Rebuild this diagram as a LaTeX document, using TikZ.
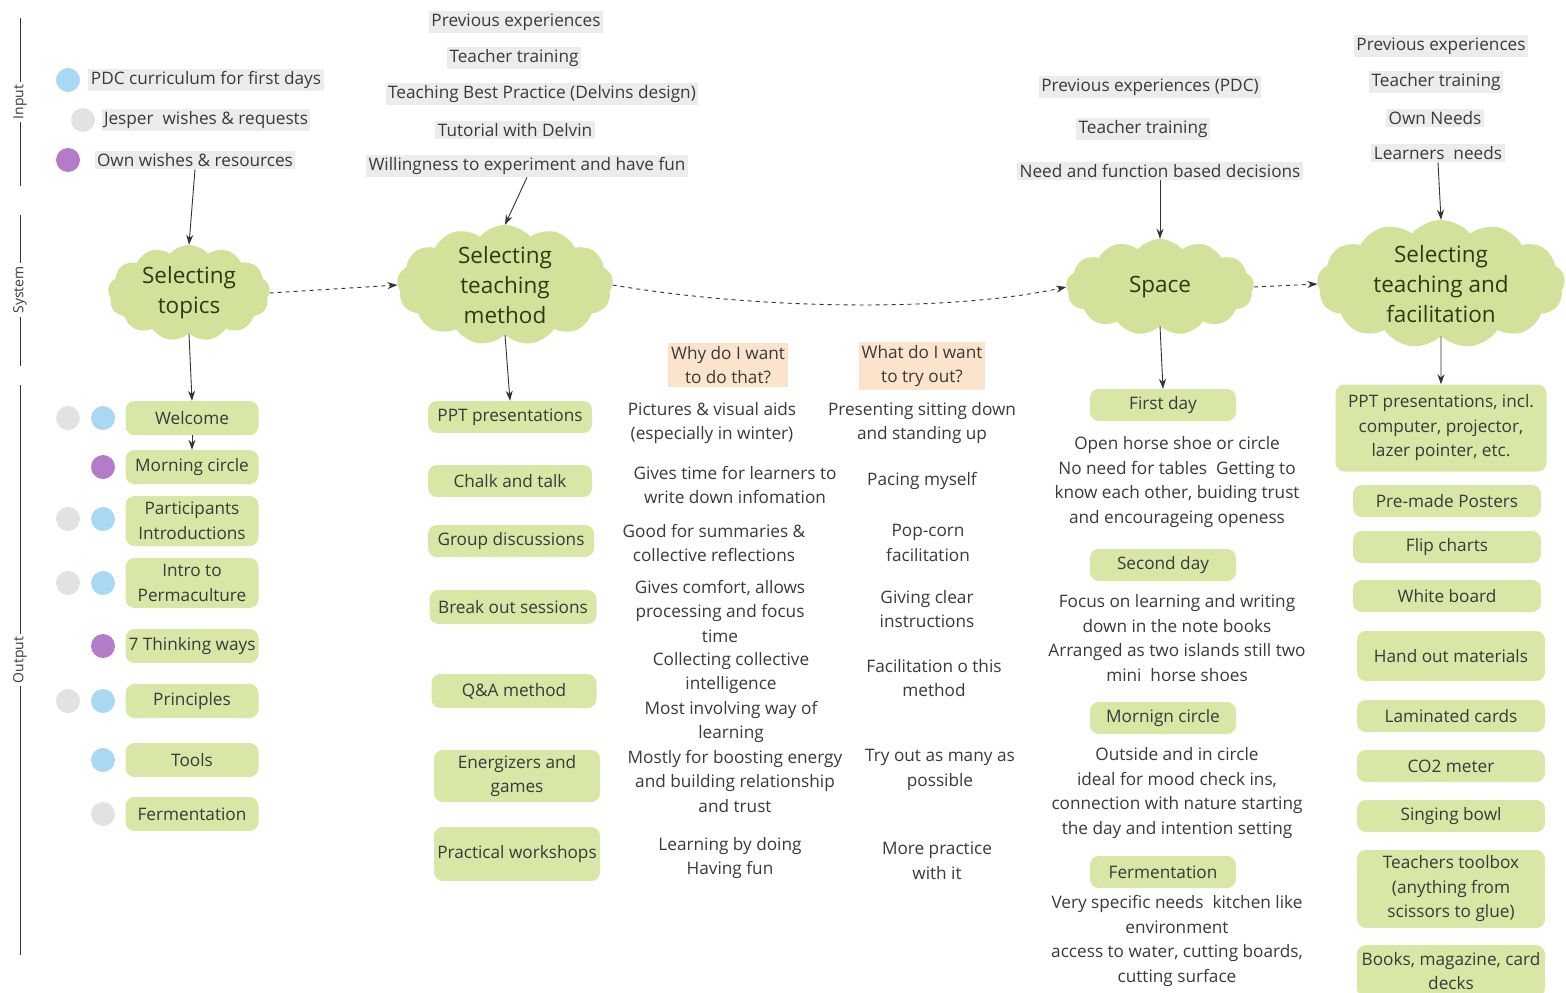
\documentclass[tikz,border=0pt]{standalone}
\usepackage{fontspec}
\setmainfont{Open Sans}
\usetikzlibrary{shapes.symbols,arrows.meta}
\definecolor{boxgreen}{HTML}{D8E6A6}
\definecolor{cloudgreen}{HTML}{D3E29A}
\definecolor{inpgray}{HTML}{ECECEC}
\definecolor{peach}{HTML}{FBE4CB}
\definecolor{txt}{HTML}{3A3A3A}
\definecolor{cltxt}{HTML}{2E3A14}
\definecolor{dblue}{HTML}{A9D8F2}
\definecolor{dgray}{HTML}{E2E2E2}
\definecolor{dpurple}{HTML}{B47BC9}
\newcommand\bxf{\fontsize{17.2}{24.5}\selectfont}
\newcommand\clf{\fontsize{22.5}{30}\selectfont}
\newcommand\axf{\fontsize{14}{16}\selectfont}
\tikzset{
  gbox/.style={fill=boxgreen, rounded corners=9pt, align=center, font=\bxf, text=txt, inner sep=2pt},
  inp/.style={fill=inpgray, inner sep=2.5pt, font=\bxf, text=txt},
  plain/.style={align=center, font=\bxf, text=txt, inner sep=1pt},
  hdr/.style={fill=peach, align=center, font=\bxf, text=txt, inner sep=3pt},
  dotb/.style={circle, fill=dblue, minimum size=24pt, inner sep=0pt},
  dotg/.style={circle, fill=dgray, minimum size=24pt, inner sep=0pt},
  dotp/.style={circle, fill=dpurple, minimum size=24pt, inner sep=0pt},
  cl/.style={cloud, cloud puffs=13, cloud puff arc=100, cloud ignores aspect=false, fill=cloudgreen, align=center, font=\clf, text=cltxt, inner xsep=0pt, inner ysep=-10pt},
  arr/.style={-{Stealth[length=10pt,width=7pt]}, draw=black!80, line width=0.9pt},
  darr/.style={arr, dash pattern=on 4pt off 4pt},
  axl/.style={rotate=90, font=\axf, text=txt, fill=white, inner sep=3pt},
  axline/.style={draw=black!80, line width=1pt}
}
\begin{document}
\begin{tikzpicture}[x=1pt,y=-1pt]
\useasboundingbox (0,0) rectangle (1566,993);
\fill[white] (0,0) rectangle (1566,993);

% axis
\draw[axline] (20,18) -- (20,186);
\draw[axline] (20,215) -- (20,366);
\draw[axline] (20,385) -- (20,955);
\node[axl] (lin) at (20,102) {Input};
\node[axl] (lsy) at (20,290) {System};
\node[axl] (lout) at (20,660) {Output};

% ---------------- column 1
\node[dotb] (d1) at (68,80) {};
\node[dotg] (d2) at (83,120) {};
\node[dotp] (d3) at (68,160) {};
\node[inp] (pdc) at (206,80) {PDC curriculum for first days};
\node[inp] (jes) at (206,120) {Jesper\ \ wishes \& requests};
\node[inp] (own) at (195,160) {Own wishes \& resources};
\node[cl, aspect=1.7, minimum width=162pt, minimum height=96pt] (topics) at (189,293) {Selecting\\topics};
\draw[arr] (own.south) -- (topics.north);

\node[gbox, minimum width=133pt, minimum height=34pt] (wel) at (192,418) {Welcome};
\node[gbox, minimum width=133pt, minimum height=34pt] (mor) at (192,467) {Morning circle};
\node[gbox, minimum width=133pt, minimum height=50pt] (par) at (192,521) {Participants\\Introductions};
\node[gbox, minimum width=133pt, minimum height=50pt] (int) at (192,583) {Intro to\\Permaculture};
\node[gbox, minimum width=133pt, minimum height=34pt] (sev) at (192,646) {7 Thinking ways};
\node[gbox, minimum width=133pt, minimum height=34pt] (pri) at (192,701) {Principles};
\node[gbox, minimum width=133pt, minimum height=34pt] (too) at (192,760) {Tools};
\node[gbox, minimum width=133pt, minimum height=34pt] (fer) at (192,814) {Fermentation};
\draw[arr] (topics.south) -- (wel.north);
\draw[arr] (wel.south) -- (mor.north);

\node[dotg] (w1) at (68,418) {};
\node[dotb] (w2) at (103,418) {};
\node[dotp] (m1) at (103,467) {};
\node[dotg] (p1) at (68,519) {};
\node[dotb] (p2) at (103,519) {};
\node[dotg] (i1) at (68,583) {};
\node[dotb] (i2) at (103,583) {};
\node[dotp] (s1) at (103,646) {};
\node[dotg] (r1) at (68,701) {};
\node[dotb] (r2) at (103,701) {};
\node[dotb] (t1) at (103,760) {};
\node[dotg] (f1) at (103,814) {};

% ---------------- column 2
\node[inp] (pe1) at (516,22) {Previous experiences};
\node[inp] (tt1) at (514,58) {Teacher training};
\node[inp] (tbp) at (542,94) {Teaching Best Practice (Delvins design)};
\node[inp] (tut) at (515,130) {Tutorial with Delvin};
\node[inp] (wil) at (527,166) {Willingness to experiment and have fun};
\node[cl, aspect=1.8, minimum width=216pt, minimum height=120pt] (tm) at (505,285) {Selecting\\teaching\\method};
\draw[arr] (wil.south) -- (tm.north);
\draw[darr] (topics.east) -- (tm.west);

\node[gbox, minimum width=164pt, minimum height=32pt] (ppt) at (510,417) {PPT presentations};
\node[gbox, minimum width=164pt, minimum height=32pt] (cha) at (510,481) {Chalk and talk};
\node[gbox, minimum width=166pt, minimum height=32pt] (gro) at (511,541) {Group discussions};
\node[gbox, minimum width=167pt, minimum height=34pt] (bre) at (513,607) {Break out sessions};
\node[gbox, minimum width=165pt, minimum height=34pt] (qa) at (514,691) {Q\&A method};
\node[gbox, minimum width=166pt, minimum height=52pt] (ene) at (517,776) {Energizers and\\games};
\node[gbox, minimum width=166pt, minimum height=54pt] (pra) at (517,854) {Practical workshops};
\draw[arr] (tm.south) -- (ppt.north);

% ---------------- why / what
\node[hdr] (why) at (728,365) {Why do I want\\to do that?};
\node[hdr] (wha) at (922,366) {What do I want\\to try out?};
\node[plain] (y1) at (712,423) {Pictures \& visual aids\\(especially in winter)};
\node[plain] (y2) at (735,485) {Gives time for learners to\\write down infomation};
\node[plain] (y3) at (714,543) {Good for summaries \&\\collective reflections};
\node[plain] (y4) at (720,611) {Gives comfort, allows\\processing and focus\\time};
\node[plain] (y5) at (731,673) {Collecting collective\\intelligence};
\node[plain] (y6) at (731,722) {Most involving way of\\learning};
\node[plain] (y7) at (735,781) {Mostly for boosting energy\\and building relationship\\and trust};
\node[plain] (y8) at (730,858) {Learning by doing\\Having fun};
\node[plain] (h1) at (922,423) {Presenting sitting down\\and standing up};
\node[plain] (h2) at (922,481) {Pacing myself};
\node[plain] (h3) at (928,543) {Pop-corn\\facilitation};
\node[plain] (h4) at (927,609) {Giving clear\\instructions};
\node[plain] (h5) at (934,678) {Facilitation o this\\method};
\node[plain] (h6) at (940,770) {Try out as many as\\possible};
\node[plain] (h7) at (937,861) {More practice\\with it};

% ---------------- space column
\node[inp] (pe2) at (1150,87) {Previous experiences (PDC)};
\node[inp] (tt2) at (1143,129) {Teacher training};
\node[inp] (nfd) at (1160,171) {Need and function based decisions};
\node[cl, aspect=1.95, minimum width=188pt, minimum height=96pt] (spa) at (1160,287) {Space};
\draw[arr] (nfd.south) -- (spa.north);
\draw[darr] (tm.east) .. controls (760,310) and (950,312) .. (spa.west);

\node[gbox, minimum width=146pt, minimum height=32pt] (fd) at (1163,405) {First day};
\node[plain] (fdt) at (1177,482) {Open horse shoe or circle\\No need for tables\ \ Getting to\\know each other, buiding trust\\and encourageing openess};
\node[gbox, minimum width=146pt, minimum height=32pt] (sd) at (1163,565) {Second day};
\node[plain] (sdt) at (1177,638) {Focus on learning and writing\\down in the note books\\Arranged as two islands still two\\mini\ \ horse shoes};
\node[gbox, minimum width=146pt, minimum height=32pt] (mc) at (1163,718) {Mornign circle};
\node[plain] (mct) at (1177,793) {Outside and in circle\\ideal for mood check ins,\\connection with nature starting\\the day and intention setting};
\node[gbox, minimum width=146pt, minimum height=32pt] (fe2) at (1163,872) {Fermentation};
\node[plain] (fet) at (1177,941) {Very specific needs\ \ kitchen like\\environment\\access to water, cutting boards,\\cutting surface};
\draw[arr] (spa.south) -- (fd.north);

% ---------------- right column
\node[inp] (pe3) at (1441,46) {Previous experiences};
\node[inp] (tt3) at (1436,82) {Teacher training};
\node[inp] (own2) at (1435,118) {Own Needs};
\node[inp] (lea) at (1438,153) {Learners\ \ needs};
\node[cl, aspect=1.9, minimum width=248pt, minimum height=128pt] (tf) at (1441,284) {Selecting\\teaching and\\facilitation};
\draw[arr] (lea.south) -- (tf.north);
\draw[darr] (spa.east) -- (tf.west);

\node[gbox, minimum width=211pt, minimum height=87pt] (pp2) at (1441,428) {PPT presentations, incl.\\computer, projector,\\lazer pointer, etc.};
\node[gbox, minimum width=188pt, minimum height=32pt] (pos) at (1447,501) {Pre-made Posters};
\node[gbox, minimum width=188pt, minimum height=32pt] (fli) at (1447,547) {Flip charts};
\node[gbox, minimum width=188pt, minimum height=32pt] (whi) at (1447,596) {White board};
\node[gbox, minimum width=188pt, minimum height=50pt] (han) at (1451,656) {Hand out materials};
\node[gbox, minimum width=188pt, minimum height=32pt] (lam) at (1451,716) {Laminated cards};
\node[gbox, minimum width=188pt, minimum height=32pt] (co2) at (1451,766) {CO2 meter};
\node[gbox, minimum width=188pt, minimum height=32pt] (sin) at (1451,816) {Singing bowl};
\node[gbox, minimum width=188pt, minimum height=78pt] (tbx) at (1451,889) {Teachers toolbox\\(anything from\\scissors to glue)};
\node[gbox, minimum width=188pt, minimum height=52pt] (boo) at (1451,971) {Books, magazine, card\\decks};
\draw[arr] (tf.south) -- (pp2.north);
\end{tikzpicture}
\end{document}
